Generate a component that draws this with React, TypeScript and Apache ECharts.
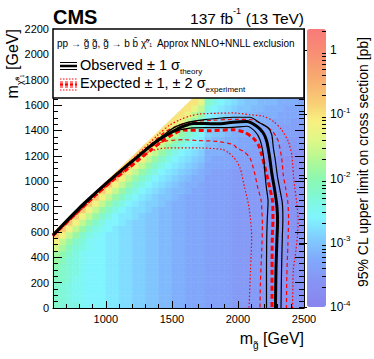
import React, { useEffect, useRef } from "react";
import * as echarts from "echarts";

const FONT = "'Liberation Sans', Arial, Helvetica, sans-serif";

// ---- Heat map: 95% CL upper limit (log10 of pb, x10), one array per gluino-mass column, from m_LSP = 25 upwards
const gluinoBins = [625, 675, 725, 775, 825, 875, 925, 975, 1025, 1075, 1125, 1175, 1225, 1275, 1325, 1375, 1425, 1475, 1525, 1575, 1625, 1675, 1725, 1775, 1825, 1875, 1925, 1975, 2025, 2075, 2125, 2175, 2225, 2275, 2325, 2375, 2425, 2475];
const lspBins = [25, 75, 125, 175, 225, 275, 325, 375, 425, 475, 525, 575, 625, 675, 725, 775, 825, 875, 925, 975, 1025, 1075, 1125, 1175, 1225, 1275, 1325, 1375, 1425, 1475, 1525, 1575, 1625, 1675];
const limitLog10x10: number[][] = [
  [-22, -22, -22, -22, -21, -21, -20, -19, -18, -15, -12, -8],
  [-23, -23, -23, -23, -22, -22, -22, -21, -20, -18, -16, -12, -8],
  [-24, -24, -24, -24, -23, -23, -23, -23, -22, -21, -19, -16, -12, -8],
  [-24, -25, -25, -25, -25, -24, -24, -24, -24, -23, -22, -19, -16, -12, -8],
  [-25, -25, -25, -25, -25, -25, -25, -25, -25, -24, -23, -22, -19, -16, -12, -8],
  [-26, -26, -26, -26, -26, -26, -26, -26, -26, -25, -25, -24, -22, -19, -16, -12, -8],
  [-26, -26, -26, -26, -26, -26, -26, -26, -26, -26, -26, -25, -24, -22, -19, -16, -12, -8],
  [-26, -26, -26, -26, -26, -26, -26, -26, -26, -26, -26, -26, -25, -24, -22, -19, -16, -12, -8],
  [-27, -27, -27, -27, -27, -27, -27, -27, -27, -27, -27, -27, -26, -26, -24, -22, -19, -16, -12, -8],
  [-27, -27, -27, -27, -27, -27, -27, -27, -27, -27, -27, -27, -27, -26, -26, -24, -22, -19, -16, -12, -8],
  [-28, -28, -28, -28, -28, -28, -28, -28, -28, -28, -28, -28, -28, -27, -27, -26, -24, -22, -19, -16, -12, -9],
  [-28, -28, -28, -28, -28, -28, -28, -28, -28, -28, -28, -28, -28, -28, -27, -27, -26, -24, -22, -19, -16, -12, -9],
  [-29, -29, -29, -29, -29, -29, -29, -29, -29, -29, -29, -29, -29, -29, -28, -28, -27, -26, -24, -22, -19, -16, -12, -9],
  [-29, -29, -29, -29, -29, -29, -29, -29, -29, -29, -29, -29, -29, -29, -29, -28, -28, -27, -26, -24, -22, -19, -16, -12, -9],
  [-30, -30, -30, -30, -30, -30, -30, -30, -30, -30, -30, -30, -30, -30, -30, -29, -29, -28, -27, -26, -24, -22, -19, -16, -13, -10],
  [-30, -30, -30, -30, -30, -30, -30, -30, -30, -30, -30, -30, -30, -30, -30, -30, -29, -29, -28, -27, -26, -24, -22, -19, -16, -13, -10],
  [-31, -31, -31, -31, -31, -31, -31, -31, -31, -31, -31, -31, -31, -31, -31, -31, -30, -30, -29, -28, -27, -26, -24, -22, -19, -16, -13, -10],
  [-31, -31, -31, -31, -31, -31, -31, -31, -31, -31, -31, -31, -31, -31, -31, -31, -31, -30, -30, -29, -28, -27, -26, -24, -22, -19, -16, -13, -10],
  [-32, -32, -32, -32, -32, -32, -32, -32, -32, -32, -32, -32, -32, -32, -32, -32, -32, -31, -31, -30, -29, -28, -27, -26, -24, -22, -19, -16, -13, -10],
  [-32, -32, -32, -32, -32, -32, -32, -32, -32, -32, -32, -32, -32, -32, -32, -32, -32, -32, -31, -31, -30, -29, -28, -27, -26, -24, -22, -19, -16, -13, -10],
  [-33, -33, -33, -33, -33, -33, -33, -33, -33, -33, -33, -33, -33, -33, -33, -33, -33, -33, -32, -32, -31, -30, -29, -28, -27, -26, -24, -22, -19, -16, -13, -10],
  [-33, -33, -33, -33, -33, -33, -33, -33, -33, -33, -33, -33, -33, -33, -33, -33, -33, -33, -33, -32, -32, -31, -30, -29, -28, -27, -26, -24, -22, -19, -16, -13, -10],
  [-33, -33, -33, -33, -33, -33, -33, -33, -33, -33, -33, -33, -33, -33, -33, -33, -33, -33, -33, -33, -32, -32, -31, -30, -29, -28, -27, -26, -24, -22, -19, -16, -13, -10],
  [-34, -34, -34, -34, -34, -34, -34, -34, -34, -34, -34, -34, -34, -34, -34, -34, -34, -34, -34, -34, -34, -33, -33, -32, -32, -31, -30, -29, -28, -27, -26, -24, -22, -19],
  [-34, -34, -34, -34, -34, -34, -34, -34, -34, -34, -34, -34, -34, -34, -34, -34, -34, -34, -34, -34, -34, -34, -33, -33, -32, -31, -31, -30, -29, -28, -27, -26, -24, -22],
  [-34, -34, -34, -34, -34, -34, -34, -34, -34, -34, -34, -34, -34, -34, -34, -34, -34, -34, -34, -34, -34, -34, -33, -33, -32, -32, -31, -30, -29, -29, -28, -27, -26, -24],
  [-34, -34, -34, -34, -34, -34, -34, -34, -34, -34, -34, -34, -34, -34, -34, -34, -34, -34, -34, -34, -34, -34, -33, -33, -33, -32, -32, -31, -30, -30, -29, -28, -27, -26],
  [-35, -35, -35, -35, -35, -35, -35, -35, -35, -35, -35, -35, -35, -35, -35, -35, -35, -35, -35, -35, -35, -35, -34, -34, -33, -33, -32, -32, -31, -31, -30, -29, -28, -27],
  [-35, -35, -35, -35, -35, -35, -35, -35, -35, -35, -35, -35, -35, -35, -35, -35, -35, -35, -35, -35, -35, -35, -34, -34, -33, -33, -33, -32, -32, -31, -30, -30, -29, -28],
  [-35, -35, -35, -35, -35, -35, -35, -35, -35, -35, -35, -35, -35, -35, -35, -35, -35, -35, -35, -35, -35, -35, -34, -34, -34, -33, -33, -32, -32, -31, -31, -30, -30, -29],
  [-35, -35, -35, -35, -35, -35, -35, -35, -35, -35, -35, -35, -35, -35, -35, -35, -35, -35, -35, -35, -35, -35, -35, -34, -34, -34, -33, -33, -32, -32, -31, -31, -30, -30],
  [-35, -35, -35, -35, -35, -35, -35, -35, -35, -35, -35, -35, -35, -35, -35, -35, -35, -35, -35, -35, -35, -35, -35, -34, -34, -34, -33, -33, -33, -32, -32, -31, -31, -30],
  [-35, -35, -35, -35, -35, -35, -35, -35, -35, -35, -35, -35, -35, -35, -35, -35, -35, -35, -35, -35, -35, -35, -35, -35, -34, -34, -34, -33, -33, -32, -32, -32, -31, -31],
  [-35, -35, -35, -35, -35, -35, -35, -35, -35, -35, -35, -35, -35, -35, -35, -35, -35, -35, -35, -35, -35, -35, -35, -35, -34, -34, -34, -33, -33, -33, -32, -32, -31, -31],
  [-36, -36, -36, -36, -36, -36, -36, -36, -36, -36, -36, -36, -36, -36, -36, -36, -36, -36, -36, -36, -36, -36, -36, -36, -35, -35, -34, -34, -34, -33, -33, -32, -32, -31],
  [-36, -36, -36, -36, -36, -36, -36, -36, -36, -36, -36, -36, -36, -36, -36, -36, -36, -36, -36, -36, -36, -36, -36, -36, -35, -35, -35, -34, -34, -33, -33, -33, -32, -32],
  [-36, -36, -36, -36, -36, -36, -36, -36, -36, -36, -36, -36, -36, -36, -36, -36, -36, -36, -36, -36, -36, -36, -36, -36, -36, -35, -35, -34, -34, -34, -33, -33, -32, -32],
  [-36, -36, -36, -36, -36, -36, -36, -36, -36, -36, -36, -36, -36, -36, -36, -36, -36, -36, -36, -36, -36, -36, -36, -36, -36, -35, -35, -35, -34, -34, -33, -33, -33, -32],
];

// ---- Exclusion contours [m_gluino, m_LSP] in GeV
const observed = [[600, 575], [800, 790], [1000, 980], [1150, 1115], [1250, 1200], [1334, 1275], [1400, 1325], [1461, 1365], [1530, 1405], [1586, 1433], [1660, 1455], [1750, 1455], [1839, 1452], [1963, 1465], [2066, 1470], [2142, 1433], [2192, 1380], [2218, 1314], [2237, 1209], [2256, 1065], [2278, 930], [2295, 800], [2300, 680], [2295, 540], [2288, 300], [2284, 0]];
const observedUp = [[600, 577], [1000, 983], [1200, 1162], [1350, 1295], [1450, 1375], [1530, 1430], [1612, 1462], [1750, 1485], [1880, 1498], [1965, 1504], [2091, 1504], [2167, 1459], [2230, 1419], [2256, 1366], [2268, 1262], [2284, 1157], [2300, 1030], [2320, 920], [2336, 826], [2340, 700], [2336, 560], [2330, 300], [2326, 0]];
const observedDown = [[600, 573], [1000, 975], [1200, 1160], [1300, 1240], [1400, 1320], [1500, 1385], [1637, 1419], [1800, 1422], [1963, 1425], [2066, 1433], [2129, 1393], [2167, 1327], [2192, 1209], [2205, 1051], [2215, 950], [2228, 840], [2222, 700], [2218, 560], [2216, 300], [2216, 0]];
const expected = [[600, 570], [900, 870], [1050, 1005], [1150, 1085], [1250, 1170], [1334, 1240], [1420, 1310], [1500, 1365], [1586, 1403], [1788, 1398], [1965, 1406], [2050, 1385], [2116, 1340], [2154, 1288], [2180, 1209], [2218, 1051], [2240, 950], [2262, 840], [2265, 700], [2260, 560], [2258, 300], [2258, 0]];
const expectedUp1 = [[600, 578], [1000, 985], [1200, 1165], [1350, 1300], [1450, 1390], [1550, 1440], [1650, 1468], [1800, 1480], [2000, 1488], [2100, 1485], [2192, 1445], [2260, 1395], [2290, 1350], [2306, 1314], [2331, 1183], [2343, 1051], [2360, 950], [2378, 830], [2383, 700], [2378, 500], [2370, 250], [2367, 0]];
const expectedDown1 = [[600, 568], [1000, 960], [1200, 1145], [1300, 1240], [1380, 1290], [1461, 1318], [1586, 1327], [1700, 1320], [1839, 1314], [1965, 1288], [1991, 1262], [2041, 1236], [2091, 1183], [2116, 1104], [2129, 1051], [2150, 950], [2175, 850], [2185, 650], [2180, 450], [2170, 200], [2167, 0]];
const expectedUp2 = [[600, 580], [1000, 988], [1200, 1170], [1400, 1370], [1480, 1440], [1561, 1485], [1640, 1515], [1713, 1530], [1850, 1536], [1963, 1538], [2091, 1524], [2192, 1512], [2268, 1472], [2331, 1406], [2381, 1314], [2407, 1209], [2420, 1051], [2430, 950], [2445, 830], [2455, 700], [2450, 560], [2432, 400], [2419, 300], [2413, 0]];
const expectedDown2 = [[600, 566], [1000, 955], [1200, 1130], [1280, 1200], [1334, 1236], [1461, 1262], [1713, 1262], [1880, 1250], [1930, 1225], [1965, 1190], [1991, 1157], [2016, 1104], [2030, 1050], [2050, 950], [2078, 826], [2095, 700], [2104, 562], [2095, 300], [2084, 0]];

// ---- Axis ticks
const xMajorTicks = [1000, 1500, 2000, 2500];
const yMajorTicks = [0, 200, 400, 600, 800, 1000, 1200, 1400, 1600, 1800, 2000, 2200];
const zDecades = [-4, -3, -2, -1, 0];

const xMinorTicks: number[] = [];
for (let v = 600; v <= 2500; v += 100) if (v % 500 !== 0) xMinorTicks.push(v);
const yMinorTicks: number[] = [];
for (let v = 0; v <= 2200; v += 50) if (v % 200 !== 0) yMinorTicks.push(v);
const zMinorTicks: number[] = [];
for (const d of zDecades) for (let k = 2; k <= 9; k++) { const t = d + Math.log10(k); if (t < 0.33) zMinorTicks.push(t); }

// ---- Colour palette (log10 value -> colour)
const colorStops: [number, string][] = [
  [-4.0, "#8984ee"], [-3.6, "#8794f4"], [-3.25, "#80aafc"], [-2.9, "#80d0ff"], [-2.6, "#80f6ff"],
  [-2.3, "#80f8d8"], [-2.0, "#8cf8b0"], [-1.7, "#b4f894"], [-1.4, "#e0f888"], [-1.1, "#f8f080"],
  [-0.8, "#f8cc74"], [-0.4, "#f8a870"], [0.0, "#f88c74"], [0.33, "#f87a7a"],
];
const Z_MIN = -4;
const Z_MAX = 0.33;

function hexToRgb(h: string) { return [1, 3, 5].map((i) => parseInt(h.slice(i, i + 2), 16)); }
function rampColor(v: number) {
  for (let i = 0; i < colorStops.length - 1; i++) {
    const [a, ca] = colorStops[i];
    const [b, cb] = colorStops[i + 1];
    if (v <= b || i === colorStops.length - 2) {
      const t = Math.max(0, Math.min(1, (v - a) / (b - a)));
      const A = hexToRgb(ca), B = hexToRgb(cb);
      return "rgb(" + A.map((x, k) => Math.round(x + (B[k] - x) * t)).join(",") + ")";
    }
  }
  return colorStops[0][1];
}
const ramp: string[] = [];
for (let i = 0; i <= 86; i++) ramp.push(rampColor(Z_MIN + ((Z_MAX - Z_MIN) * i) / 86));

const HALF = 25; // half bin width (GeV)
const EDGE = 5; // data edge: m_LSP = m_gluino - EDGE

export default function App() {
  const ref = useRef<HTMLDivElement>(null);
  useEffect(() => {
    if (!ref.current) return;
    const chart = echarts.init(ref.current, undefined, { renderer: "svg" });

    const heatData: number[][] = [];
    limitLog10x10.forEach((col, i) => col.forEach((v, j) => heatData.push([gluinoBins[i], lspBins[j], v / 10])));

    const line = (data: number[][], color: string, width: number, type: any, z: number) => ({
      type: "line", xAxisIndex: 0, yAxisIndex: 0, data, symbol: "none", showSymbol: false,
      smooth: 0.25, silent: true, z, clip: true, lineStyle: { color, width, type },
    });

    const tickStyle = { color: "#000", width: 1 };
    const mainX = (ticks: number[], len: number, labels: boolean, line: boolean) => ({
      type: "value", gridIndex: 0, min: 600, max: 2500, position: "bottom", z: 10,
      axisLine: { show: line, onZero: false, lineStyle: { color: "#000", width: 1 } },
      axisTick: { show: true, inside: true, length: len, customValues: ticks, lineStyle: tickStyle },
      axisLabel: labels
        ? { show: true, customValues: ticks, fontSize: 11, color: "#000", fontFamily: FONT, margin: 5, formatter: (v: number) => String(v) }
        : { show: false },
      splitLine: { show: false },
    });
    const mainY = (ticks: number[], len: number, labels: boolean, pos: string, line: boolean) => ({
      type: "value", gridIndex: 0, min: 0, max: 2200, position: pos, z: 10,
      axisLine: { show: line, onZero: false, lineStyle: { color: "#000", width: 1 } },
      axisTick: { show: true, inside: true, length: len, customValues: ticks, lineStyle: tickStyle },
      axisLabel: labels
        ? { show: true, customValues: ticks, fontSize: 11, color: "#000", fontFamily: FONT, margin: 4, formatter: (v: number) => String(v) }
        : { show: false },
      splitLine: { show: false },
    });

    const sub = (size: number) => ({ fontSize: size, lineHeight: size, verticalAlign: "bottom", fontFamily: FONT, fill: "#000" });

    chart.setOption({
      animation: false,
      backgroundColor: "#fff",
      grid: [
        { left: 53, top: 29, width: 251, height: 279 },
        { left: 307, top: 29, width: 19, height: 278 },
      ],
      xAxis: [
        mainX(xMajorTicks, 7, true, true),
        mainX(xMinorTicks, 4, false, false),
        { type: "value", gridIndex: 1, min: 0, max: 1, show: false },
      ],
      yAxis: [
        mainY(yMajorTicks, 9, true, "left", true),
        mainY(yMinorTicks, 5, false, "left", false),
        mainY(yMajorTicks, 9, false, "right", true),
        mainY(yMinorTicks, 5, false, "right", false),
        {
          type: "value", gridIndex: 1, min: Z_MIN, max: Z_MAX, interval: 1, position: "right", z: 10,
          axisLine: { show: false },
          axisTick: { show: true, inside: true, length: 8, lineStyle: tickStyle },
          axisLabel: {
            show: true, margin: 4, showMaxLabel: false,
            formatter: (v: number) => {
              if (Math.abs(v - Math.round(v)) > 1e-6) return "";
              const n = Math.round(v);
              return n === 0 ? "{a|1}" : "{a|10}{s|" + n + "}";
            },
            rich: {
              a: { fontSize: 12, lineHeight: 16, fontFamily: FONT, color: "#000" },
              s: { fontSize: 8, lineHeight: 8, verticalAlign: "top", fontFamily: FONT, color: "#000" },
            },
          },
          splitLine: { show: false },
        },
        {
          type: "value", gridIndex: 1, min: Z_MIN, max: Z_MAX, position: "right", z: 10,
          axisLine: { show: false },
          axisTick: { show: true, inside: true, length: 4, customValues: zMinorTicks, lineStyle: tickStyle },
          axisLabel: { show: false },
          splitLine: { show: false },
        },
      ],
      visualMap: {
        type: "continuous", min: Z_MIN, max: Z_MAX, dimension: 2, seriesIndex: 0,
        orient: "vertical", left: 307, top: 29, itemWidth: 19, itemHeight: 278, padding: 0,
        calculable: false, hoverLink: false, inRange: { color: ramp },
      },
      series: [
        {
          type: "custom", xAxisIndex: 0, yAxisIndex: 0, data: heatData, silent: true, z: 1,
          encode: { x: 0, y: 1 },
          renderItem: (params: any, api: any) => {
            const c = api.value(0), r = api.value(1);
            const color = api.visual("color");
            const style = { fill: color, stroke: color, lineWidth: 0.6 };
            if (r >= c - 2 * HALF - 1) {
              // top (diagonal) bin: extend it up to the kinematic edge
              const pts = [
                [c - HALF, r - HALF], [c + HALF, r - HALF],
                [c + HALF, c + HALF - EDGE], [c - HALF, c - HALF - EDGE],
              ].map((p) => api.coord(p));
              return { type: "polygon", shape: { points: pts }, style };
            }
            const p0 = api.coord([c - HALF, r + HALF]);
            const p1 = api.coord([c + HALF, r - HALF]);
            return {
              type: "rect",
              shape: { x: p0[0], y: p0[1], width: p1[0] - p0[0], height: p1[1] - p0[1] },
              style,
            };
          },
        },
        line(expectedUp2, "#ff0000", 1.2, [1.5, 2], 3),
        line(expectedDown2, "#ff0000", 1.2, [1.5, 2], 3),
        line(expectedUp1, "#ff0000", 1.2, [4, 3], 3),
        line(expectedDown1, "#ff0000", 1.2, [4, 3], 3),
        line(expected, "#ff0000", 3, [5, 3], 4),
        line(observedUp, "#000", 1.2, "solid", 5),
        line(observedDown, "#000", 1.2, "solid", 5),
        line(observed, "#000", 3, "solid", 6),
      ],
      graphic: [
        { type: "rect", z: 100, shape: { x: 53, y: 29, width: 251, height: 69 }, style: { fill: "#fff", stroke: "#000", lineWidth: 1.5 } },
        {
          type: "text", z: 101, x: 57, y: 43,
          style: {
            text: "{a|pp → g̃ g̃, g̃ → b b̄ χ̃}{s|⁰₁}{a|  Approx NNLO+NNLL exclusion}",
            verticalAlign: "middle",
            rich: { a: { fontSize: 10, lineHeight: 12, fontFamily: FONT, fill: "#000" }, s: { fontSize: 8, lineHeight: 12, fontFamily: FONT, fill: "#000" } },
          },
        },
        { type: "line", z: 101, shape: { x1: 60, y1: 62.5, x2: 77, y2: 62.5 }, style: { stroke: "#000", lineWidth: 1 } },
        { type: "line", z: 101, shape: { x1: 60, y1: 66, x2: 77, y2: 66 }, style: { stroke: "#000", lineWidth: 2.5 } },
        { type: "line", z: 101, shape: { x1: 60, y1: 69.5, x2: 77, y2: 69.5 }, style: { stroke: "#000", lineWidth: 1 } },
        { type: "line", z: 101, shape: { x1: 60, y1: 79, x2: 77, y2: 79 }, style: { stroke: "#ff0000", lineWidth: 1, lineDash: [1.5, 1.5] } },
        { type: "line", z: 101, shape: { x1: 60, y1: 82, x2: 77, y2: 82 }, style: { stroke: "#ff0000", lineWidth: 1, lineDash: [3, 2] } },
        { type: "line", z: 101, shape: { x1: 60, y1: 84.5, x2: 77, y2: 84.5 }, style: { stroke: "#ff0000", lineWidth: 2.5, lineDash: [3, 2] } },
        { type: "line", z: 101, shape: { x1: 60, y1: 87, x2: 77, y2: 87 }, style: { stroke: "#ff0000", lineWidth: 1, lineDash: [3, 2] } },
        { type: "line", z: 101, shape: { x1: 60, y1: 90, x2: 77, y2: 90 }, style: { stroke: "#ff0000", lineWidth: 1, lineDash: [1.5, 1.5] } },
        {
          type: "text", z: 101, x: 80, y: 57.5,
          style: {
            text: "{a|Observed ± 1 σ}{s|theory}", verticalAlign: "top",
            rich: { a: { fontSize: 14.5, lineHeight: 18, verticalAlign: "top", fontFamily: FONT, fill: "#000" }, s: sub(8) },
          },
        },
        {
          type: "text", z: 101, x: 80, y: 75.5,
          style: {
            text: "{a|Expected ± 1, ± 2 σ}{s|experiment}", verticalAlign: "top",
            rich: { a: { fontSize: 14.5, lineHeight: 18, verticalAlign: "top", fontFamily: FONT, fill: "#000" }, s: sub(8) },
          },
        },
        { type: "text", z: 101, x: 53, y: 17, style: { text: "CMS", fontSize: 20, fontWeight: "bold", fontFamily: FONT, fill: "#000", verticalAlign: "middle" } },
        {
          type: "text", z: 101, x: 304, y: 6, style: {
            text: "{a|137 fb}{s|-1}{a| (13 TeV)}", align: "right", verticalAlign: "top",
            rich: { a: { fontSize: 15.5, lineHeight: 20, verticalAlign: "bottom", fontFamily: FONT, fill: "#000" }, s: { fontSize: 9, lineHeight: 9, verticalAlign: "top", fontFamily: FONT, fill: "#000" } },
          },
        },
        {
          type: "text", z: 101, x: 4, y: 29, rotation: Math.PI / 2, style: {
            text: "{a|m}{s|χ̃⁰₁}{a| [GeV]}", align: "right", verticalAlign: "top",
            rich: { a: { fontSize: 16, lineHeight: 20, verticalAlign: "top", fontFamily: FONT, fill: "#000" }, s: sub(9) },
          },
        },
        {
          type: "text", z: 101, x: 304, y: 330, style: {
            text: "{a|m}{s|g̃}{a| [GeV]}", align: "right", verticalAlign: "top",
            rich: { a: { fontSize: 16, lineHeight: 20, verticalAlign: "top", fontFamily: FONT, fill: "#000" }, s: sub(10) },
          },
        },
        {
          type: "text", z: 101, x: 356, y: 37, rotation: Math.PI / 2, style: {
            text: "95% CL upper limit on cross section [pb]", align: "right", verticalAlign: "top",
            fontSize: 14, fontFamily: FONT, fill: "#000",
          },
        },
      ],
    });
    return () => chart.dispose();
  }, []);
  return <div ref={ref} style={{ position: "fixed", left: 0, top: 0, width: 374, height: 359 }} />;
}
